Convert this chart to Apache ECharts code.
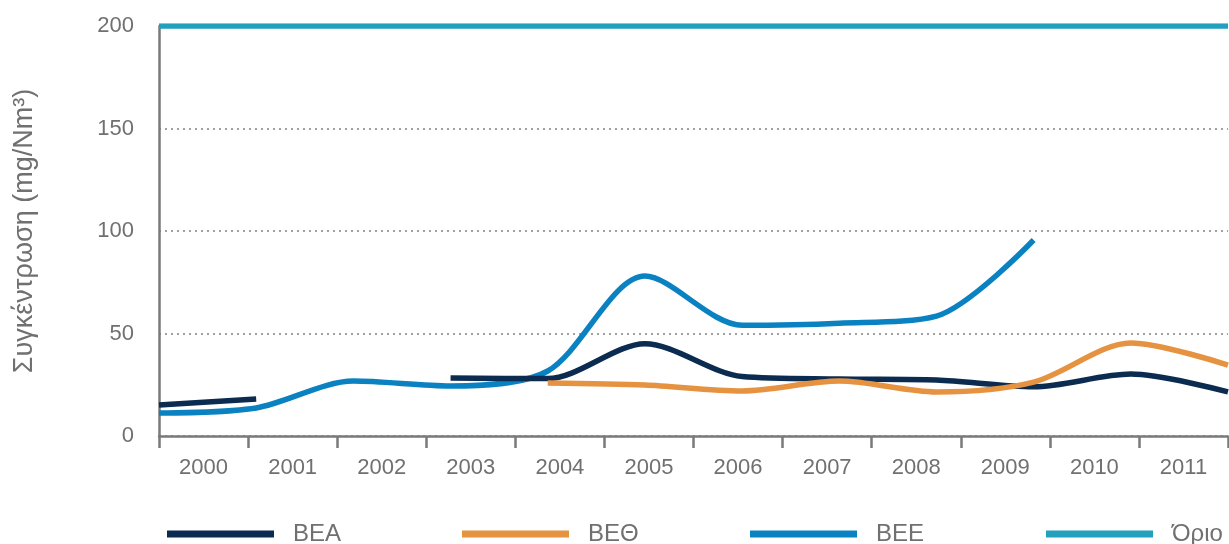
<!DOCTYPE html>
<html>
<head>
<meta charset="utf-8">
<script src="https://cdn.jsdelivr.net/npm/echarts@6/dist/echarts.min.js"></script>
<style>
html,body{margin:0;padding:0;background:#fff;}
#chart{width:1229px;height:544px;}
</style>
</head>
<body>
<div id="chart"></div>
<script>
var years = ['2000','2001','2002','2003','2004','2005','2006','2007','2008','2009','2010','2011'];
var points = ['0','1','2','3','4','5','6','7','8','9','10','11'];
var yTicks = [0, 50, 100, 150, 200];
var bea  = [15.1, 18.0, null, 28.3, 28.0, 45.0, 29.0, 27.8, 27.3, 24.0, 30.2, 21.5];
var beth = [null, null, null, null, 25.9, 24.9, 22.0, 26.8, 21.5, 26.3, 45.4, 34.6];
var bee  = [11.2, 13.7, 26.8, 24.4, 31.7, 78.0, 54.0, 55.0, 58.5, 95.6, null, null];
var orio = [200, 200, 200, 200, 200, 200, 200, 200, 200, 200, 200, 200];

var names = ['BEA', 'BEΘ', 'BEE', 'Όριο'];
var colors = ['#0b2b50', '#e69341', '#0a82c2', '#21a1bd'];
var legendLeft = [162, 457, 745, 1041];

var chart = echarts.init(document.getElementById('chart'));
var font = 'Liberation Sans, Arial, Helvetica, sans-serif';
var gray = '#707070';

function mkSeries(i, data, z) {
  return {
    name: names[i], type: 'line', xAxisIndex: 1, data: data,
    smooth: 0.3, showSymbol: false, symbol: 'none', connectNulls: false,
    lineStyle: { color: colors[i], width: 5.5, cap: 'butt' },
    itemStyle: { color: colors[i] },
    z: z, animation: false
  };
}

var legends = names.map(function (n, i) {
  return {
    data: [n], left: legendLeft[i], top: 517,
    icon: 'rect', itemWidth: 107, itemHeight: 7,
    itemStyle: { color: colors[i] },
    textStyle: { color: gray, fontSize: 24, fontFamily: font, padding: [0, 0, 0, 14] },
    selectedMode: false
  };
});

chart.setOption({
  animation: false,
  grid: { left: 159, right: 1, top: 26, bottom: 108 },
  legend: legends,
  xAxis: [
    {
      type: 'category', data: years, boundaryGap: true,
      axisLine: { lineStyle: { color: '#7a7a7a', width: 2.5 } },
      axisTick: { show: true, length: 12, lineStyle: { color: '#7a7a7a', width: 2.5 } },
      axisLabel: { color: gray, fontSize: 22, fontFamily: font, margin: 21 },
      splitLine: { show: false }
    },
    {
      type: 'category', data: points, boundaryGap: false, show: false,
      axisLine: { show: false }, axisTick: { show: false }, axisLabel: { show: false }
    }
  ],
  yAxis: {
    type: 'value', min: yTicks[0], max: yTicks[yTicks.length - 1], interval: 50,
    name: 'Συγκέντρωση (mg/Nm³)', nameLocation: 'middle', nameGap: 121, nameRotate: 90,
    nameTextStyle: { color: gray, fontSize: 27, fontFamily: font },
    axisLine: { show: true, lineStyle: { color: '#7a7a7a', width: 2.5 } },
    axisTick: { show: false },
    axisLabel: { color: gray, fontSize: 22, fontFamily: font, margin: 25 },
    splitLine: { show: true, lineStyle: { color: '#a0a0a0', width: 2, type: [2, 4] } }
  },
  series: [
    mkSeries(3, orio, 2),
    mkSeries(2, bee, 3),
    mkSeries(0, bea, 4),
    mkSeries(1, beth, 5)
  ]
});
</script>
</body>
</html>
